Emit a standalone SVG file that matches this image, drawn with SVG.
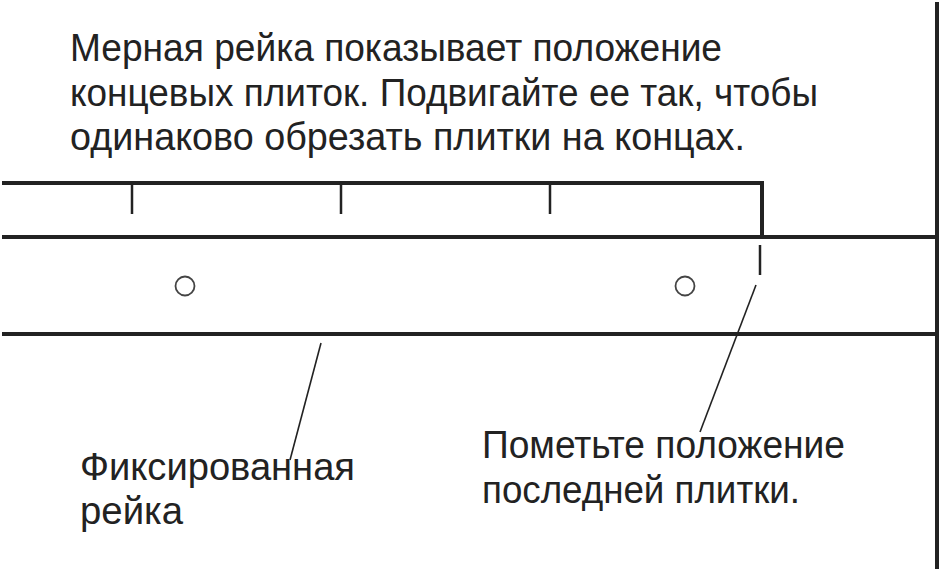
<svg xmlns="http://www.w3.org/2000/svg" width="941" height="571" viewBox="0 0 941 571">
<style>
.t{font-family:"Liberation Sans","Open Sans",sans-serif;font-size:38px;fill:#222}
.heavy{stroke:#222;stroke-width:4;fill:none}
.tick{stroke:#222;stroke-width:2.5;fill:none}
.lead{stroke:#222;stroke-width:1.6;fill:none}
.hole{stroke:#444;stroke-width:1.8;fill:none}
</style>
<rect width="941" height="571" fill="#fff"/>
<g id="caption">
<text class="t" x="70" y="61" textLength="652" lengthAdjust="spacingAndGlyphs">Мерная рейка показывает положение</text>
<text class="t" x="70" y="106" textLength="748" lengthAdjust="spacingAndGlyphs">концевых плиток. Подвигайте ее так, чтобы</text>
<text class="t" x="70" y="150" textLength="675" lengthAdjust="spacingAndGlyphs">одинаково обрезать плитки на концах.</text>
</g>
<g id="measuring-rod">
<path class="heavy" d="M2 183 H762 V237"/>
<path class="tick" d="M132 183 V214 M341 183 V214 M550 183 V214"/>
</g>
<g id="fixed-rail">
<path class="heavy" d="M2 237 H937 M2 334 H937"/>
<circle class="hole" cx="185" cy="286" r="9.5"/>
<circle class="hole" cx="685" cy="286" r="9.5"/>
</g>
<g id="wall">
<path class="heavy" d="M937 2 V569"/>
</g>
<g id="mark">
<path class="tick" d="M760 245 V275"/>
</g>
<g id="connectors">
<path class="lead" d="M321 343 L290 460"/>
<path class="lead" d="M756 285 L700 432"/>
</g>
<g id="label-fixed">
<text class="t" x="80" y="480" textLength="275" lengthAdjust="spacingAndGlyphs">Фиксированная</text>
<text class="t" x="80" y="524" textLength="103" lengthAdjust="spacingAndGlyphs">рейка</text>
</g>
<g id="label-mark">
<text class="t" x="482" y="458" textLength="363" lengthAdjust="spacingAndGlyphs">Пометьте положение</text>
<text class="t" x="482" y="503" textLength="318" lengthAdjust="spacingAndGlyphs">последней плитки.</text>
</g>
</svg>
